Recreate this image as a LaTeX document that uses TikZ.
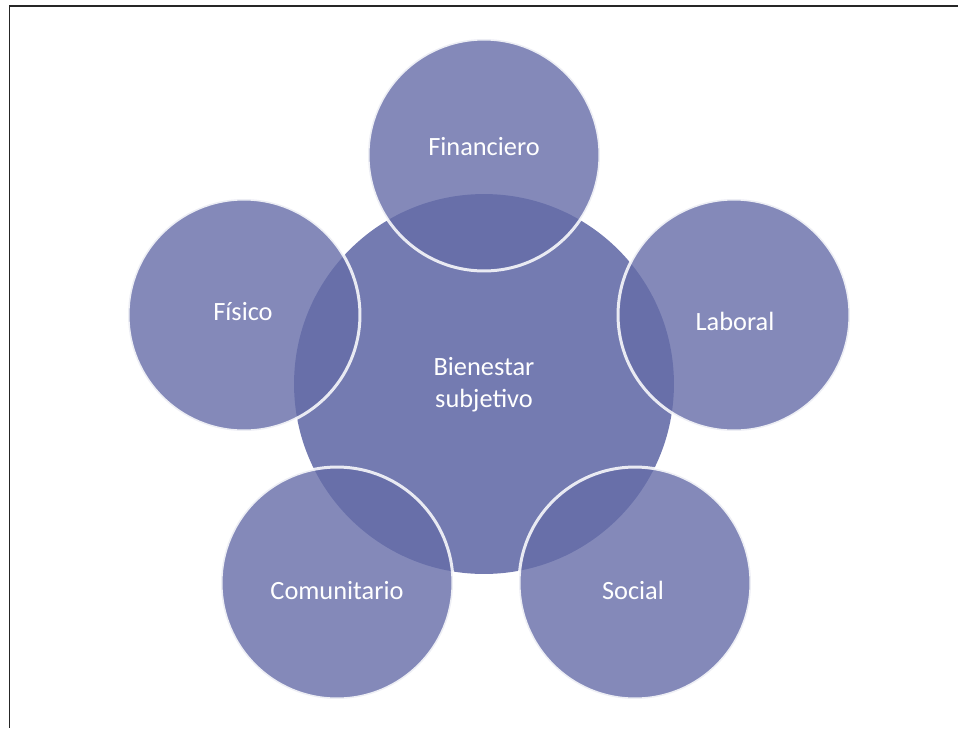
\documentclass[tikz,border=0pt]{standalone}
\usepackage{fontspec}
\setmainfont{Carlito}
\definecolor{hubfill}{RGB}{116,123,177}
\definecolor{petalfill}{RGB}{101,108,168}

\begin{document}
\begin{tikzpicture}[
    x=0.02cm, y=-0.02cm,
    font=\fontsize{15}{18}\selectfont,
    hub/.style={circle, fill=hubfill, inner sep=0pt, outer sep=0pt, minimum size=7.6cm},
    petal/.style={circle, fill=petalfill, fill opacity=0.8, draw=white, draw opacity=0.85, line width=0.06cm, inner sep=0pt, outer sep=0pt, minimum size=4.64cm},
    txt/.style={text=white, anchor=base, inner sep=0pt},
    frame/.style={draw=black!85, line width=0.04cm}
]

% Page
\useasboundingbox (0,0) rectangle (958,728);
\coordinate (topleft) at (9.5,5.5);
\coordinate (topright) at (958,5.5);
\coordinate (botleft) at (9.5,728);
\draw[frame] (topright) -- (topleft) -- (botleft);

% Centre
\node[hub] (hub) at (484,384) {};

% Petals
\node[petal] (fin) at (484,155) {};
\node[petal] (lab) at (734,315) {};
\node[petal] (fis) at (244,315) {};
\node[petal] (com) at (337,583) {};
\node[petal] (soc) at (635,583) {};

% Labels
\node[txt, align=center] (hubtxt) at (484,407) {Bienestar\\subjetivo};
\node[txt] (fintxt) at (484,155) {Financiero};
\node[txt] (labtxt) at (735,330) {Laboral};
\node[txt] (fistxt) at (243,320) {Físico};
\node[txt] (comtxt) at (337,599) {Comunitario};
\node[txt] (soctxt) at (633,599) {Social};

\end{tikzpicture}
\end{document}
